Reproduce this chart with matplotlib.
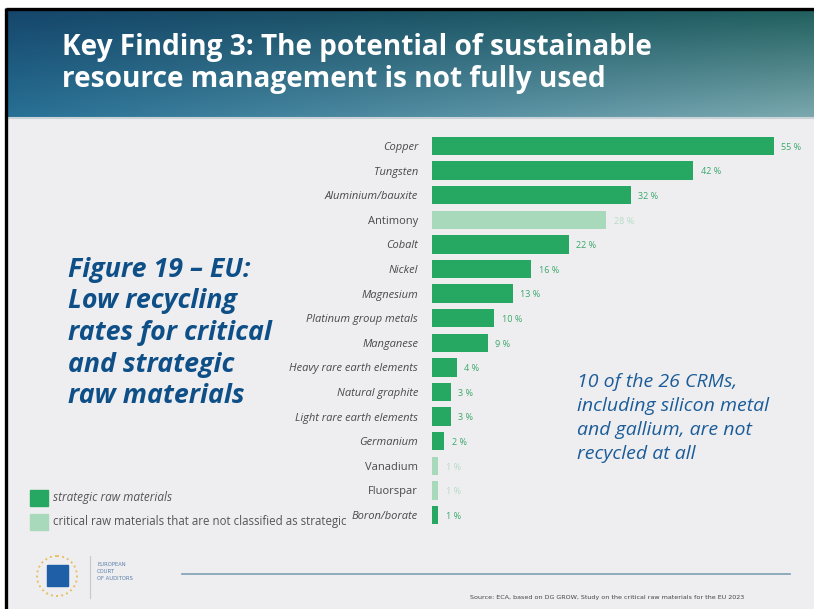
import numpy as np
import matplotlib
matplotlib.use("Agg")
import matplotlib.pyplot as plt
from matplotlib.patches import Rectangle, Circle

# ---- data ----
materials = ["Copper", "Tungsten", "Aluminium/bauxite", "Antimony", "Cobalt", "Nickel",
             "Magnesium", "Platinum group metals", "Manganese", "Heavy rare earth elements",
             "Natural graphite", "Light rare earth elements", "Germanium", "Vanadium",
             "Fluorspar", "Boron/borate"]
rates = [55, 42, 32, 28, 22, 16, 13, 10, 9, 4, 3, 3, 2, 1, 1, 1]
strategic = [True, True, True, False, True, True, True, True, True, True, True, True, True,
             False, False, True]
legend_labels = ["strategic raw materials",
                 "critical raw materials that are not classified as strategic"]

W, H = 814, 609
fig = plt.figure(figsize=(W / 100, H / 100), dpi=100)
bg = fig.add_axes([0, 0, 1, 1])
bg.set_xlim(0, W)
bg.set_ylim(H, 0)
bg.axis("off")

# page
bg.add_patch(Rectangle((0, 0), W, H, color="white", zorder=0))
bg.add_patch(Rectangle((5, 8), W, H, facecolor="#eeeef1", edgecolor="none", zorder=1))
bg.plot([5.5, W], [8.5, 8.5], color="black", lw=2.4, zorder=6, solid_capstyle="butt")
bg.plot([5.5, 5.5], [8, H], color="black", lw=2.4, zorder=6, solid_capstyle="butt")

# header gradient
nx, ny = 200, 60
xx, yy = np.meshgrid(np.linspace(0, 1, nx), np.linspace(0, 1, ny))
c_tl = np.array([0x15, 0x46, 0x6b]) / 255
c_tr = np.array([0x20, 0x5f, 0x5e]) / 255
c_bl = np.array([0x27, 0x70, 0x95]) / 255
c_br = np.array([0x7a, 0xa8, 0xae]) / 255
img = (c_tl[None, None] * ((1 - xx) * (1 - yy))[..., None] + c_tr[None, None] * (xx * (1 - yy))[..., None]
       + c_bl[None, None] * ((1 - xx) * yy)[..., None] + c_br[None, None] * (xx * yy)[..., None])
bg.imshow(img, extent=[6, W, 117, 9], aspect="auto", zorder=2, interpolation="bilinear")
bg.plot([6, W], [118, 118], color="#c9d3d8", lw=1.5, zorder=3)

bg.text(62, 47, "Key Finding 3: The potential of sustainable", color="white", fontsize=20.2,
        fontweight="bold", family="Open Sans", va="center", ha="left", zorder=4)
bg.text(62, 80, "resource management is not fully used", color="white", fontsize=20.2,
        fontweight="bold", family="Open Sans", va="center", ha="left", zorder=4)

# left caption
cap = ["Figure 19 \u2013 EU:", "Low recycling", "rates for critical", "and strategic", "raw materials"]
for i, s in enumerate(cap):
    bg.text(68, 270 + i * 31.5, s, color="#0e4f87", fontsize=19.3, fontweight="bold",
            style="italic", family="Open Sans", va="center", ha="left", zorder=4)

# right annotation
ann = ["10 of the 26 CRMs,", "including silicon metal", "and gallium, are not", "recycled at all"]
for i, s in enumerate(ann):
    bg.text(577, 382 + i * 24, s, color="#1b5c98", fontsize=14, style="italic",
            family="Open Sans", va="center", ha="left", zorder=4)

# legend
col_s = "#26a862"
col_n = "#a9d9bb"
bg.add_patch(Rectangle((30, 490), 18, 16, color=col_s, zorder=4))
bg.add_patch(Rectangle((30, 514), 18, 16, color=col_n, zorder=4))
bg.text(53, 498, legend_labels[0], color="#555555", fontsize=8.5, style="italic",
        family="Open Sans", va="center", ha="left", zorder=4)
bg.text(53, 522, legend_labels[1], color="#555555", fontsize=8.3,
        family="Open Sans", va="center", ha="left", zorder=4)

# footer
bg.plot([182, 790], [574, 574], color="#7f9fb3", lw=1.2, zorder=4)
bg.plot([90, 90], [556, 598], color="#c8c8c8", lw=0.8, zorder=4)
bg.add_patch(Circle((57, 576), 20, facecolor="none", edgecolor="#e8c060", lw=1.4, ls=":", zorder=4))
bg.add_patch(Rectangle((47, 565), 21, 21, color="#1f5fa8", zorder=5))
for i, s in enumerate(["EUROPEAN", "COURT", "OF AUDITORS"]):
    bg.text(97, 565 + i * 6.5, s, color="#5a7fa8", fontsize=3.8, va="center", ha="left", zorder=5)
bg.text(470, 597, "Source: ECA, based on DG GROW, Study on the critical raw materials for the EU 2023",
        color="#444444", fontsize=4.6, va="center", ha="left", zorder=4)

# ---- bar chart ----
px_per_pct = (774 - 432) / 55
ax_l, ax_r = 432, 810
top, bot = 146 - 12.3, 515 + 12.3
ax = fig.add_axes([ax_l / W, 1 - bot / H, (ax_r - ax_l) / W, (bot - top) / H])
ax.set_xlim(0, (ax_r - ax_l) / px_per_pct)
n = len(materials)
ax.set_ylim(n - 0.5, -0.5)
ax.patch.set_alpha(0)
for s in ax.spines.values():
    s.set_visible(False)
ypos = np.arange(n)
colors = [col_s if st else col_n for st in strategic]
ax.barh(ypos, rates, height=0.74, color=colors, zorder=3)
for y, v, st in zip(ypos, rates, strategic):
    ax.text(v + 1.2, y + 0.05, f"{v} %", color="#3aa86a" if st else "#b5dcc4",
            fontsize=6.5, va="center", ha="left", family="Open Sans")
ax.set_xticks([])
ax.set_yticks(ypos)
ax.set_yticklabels(materials, fontsize=8, color="#4a4a4a", family="Open Sans")
for lab, st in zip(ax.get_yticklabels(), strategic):
    lab.set_style("italic" if st else "normal")
ax.tick_params(axis="y", length=0, pad=10)

fig.savefig("out.png", dpi=100)
